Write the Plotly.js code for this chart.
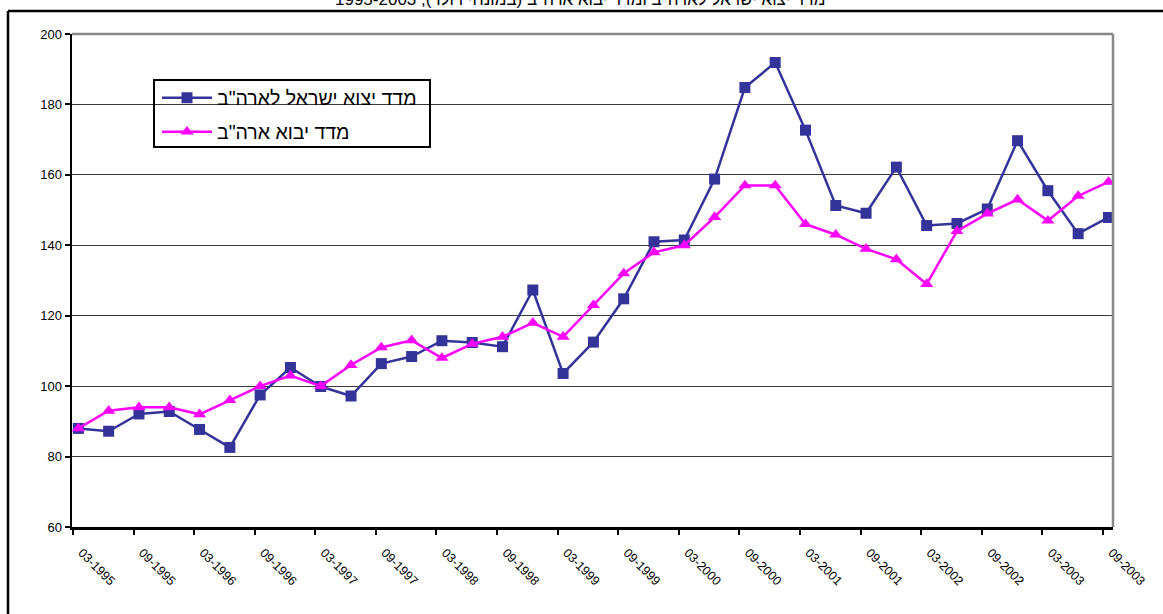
<!DOCTYPE html>
<html>
<head>
<meta charset="utf-8">
<script src="https://cdn.plot.ly/plotly-3.0.1.min.js"></script>
<style>
html,body{margin:0;padding:0;background:#fff;}
#chart{width:1163px;height:614px;}
</style>
</head>
<body>
<div id="chart"></div>
<script>
const quarters = [
  "03-1995","06-1995","09-1995","12-1995",
  "03-1996","06-1996","09-1996","12-1996",
  "03-1997","06-1997","09-1997","12-1997",
  "03-1998","06-1998","09-1998","12-1998",
  "03-1999","06-1999","09-1999","12-1999",
  "03-2000","06-2000","09-2000","12-2000",
  "03-2001","06-2001","09-2001","12-2001",
  "03-2002","06-2002","09-2002","12-2002",
  "03-2003","06-2003","09-2003"
];
const tickLabels = [
  "03-1995","09-1995","03-1996","09-1996","03-1997","09-1997",
  "03-1998","09-1998","03-1999","09-1999","03-2000","09-2000",
  "03-2001","09-2001","03-2002","09-2002","03-2003","09-2003"
];
const israelExportsToUS = [
  88, 87.2, 92.1, 92.8, 87.7, 82.6, 97.5, 105.3, 99.9, 97.2,
  106.4, 108.4, 112.9, 112.4, 111.2, 127.3, 103.6, 112.5, 124.8, 141.0,
  141.5, 158.8, 184.8, 191.9, 172.7, 151.3, 149.1, 162.2, 145.6, 146.2,
  150.3, 169.7, 155.5, 143.3, 147.9
];
const usImports = [
  88, 93, 94, 94, 92, 96, 100, 103, 100, 106,
  111, 113, 108, 112, 114, 118, 114, 123, 132, 138,
  140, 148, 157, 157, 146, 143, 139, 136, 129, 144,
  149, 153, 147, 154, 158
];
const seriesNames = ['מדד יצוא ישראל לארה"ב', 'מדד יבוא ארה"ב'];
const titleText = 'מדד יצוא ישראל לארה"ב ומדד יבוא ארה"ב (במונחי דולר), 1995-2003';

const xIdx = quarters.map((q, i) => i);
const tickOffset = -0.18;
const tickVals = tickLabels.map(l => quarters.indexOf(l) + tickOffset);

// plot area pixel geometry
const W = 1163, H = 614;
const L = 72, R = 1113, T = 34, B = 527;
const px = v => (v - L) / (R - L);
const py = v => (B - v) / (B - T);

const font = "'Liberation Sans', Arial, sans-serif";

const traces = [
  {
    x: xIdx, y: israelExportsToUS, name: seriesNames[0],
    type: 'scatter', mode: 'lines+markers',
    line: {color: '#333399', width: 2.5},
    marker: {symbol: 'square', size: 11, color: '#333399'},
    legend: 'legend'
  },
  {
    x: xIdx, y: usImports, name: seriesNames[1],
    type: 'scatter', mode: 'lines+markers',
    line: {color: '#FF00FF', width: 2.5},
    marker: {symbol: 'triangle-up', size: 11.5, color: '#FF00FF'},
    legend: 'legend2'
  }
];

const legendCommon = {
  xref: 'paper', yref: 'paper', xanchor: 'left', yanchor: 'middle',
  bgcolor: 'rgba(0,0,0,0)', borderwidth: 0,
  font: {family: font, size: 19.5, color: '#000'},
  itemwidth: 50
};

const layout = {
  width: W, height: H,
  margin: {l: L, r: W - R, t: T, b: H - B, pad: 0},
  paper_bgcolor: '#fff', plot_bgcolor: '#fff',
  showlegend: true,
  legend: Object.assign({}, legendCommon, {x: px(157), y: py(98)}),
  legend2: Object.assign({}, legendCommon, {x: px(157), y: py(132)}),
  xaxis: {
    type: 'linear',
    range: [-0.21, 34.15],
    tickmode: 'array', tickvals: tickVals, ticktext: tickLabels,
    tickangle: 45,
    ticks: 'outside', ticklen: 5, tickwidth: 2, tickcolor: '#000',
    ticklabelshift: 9, ticklabelstandoff: 6,
    showline: true, linecolor: '#000', linewidth: 2.5,
    showgrid: false, zeroline: false,
    tickfont: {family: font, size: 12.5, color: '#000'}
  },
  yaxis: {
    range: [60, 200],
    tickmode: 'linear', tick0: 60, dtick: 20,
    ticks: 'outside', ticklen: 5, tickwidth: 2, tickcolor: '#000',
    showline: true, linecolor: '#000', linewidth: 2.5,
    showgrid: true, gridcolor: '#3a3a3a', gridwidth: 1.2,
    zeroline: false,
    tickfont: {family: font, size: 13, color: '#000'}
  },
  shapes: [
    // plot area gray top/right border
    {type: 'line', xref: 'paper', yref: 'paper', x0: 0, x1: 1, y0: 1, y1: 1,
     line: {color: '#888', width: 2.5}},
    {type: 'line', xref: 'paper', yref: 'paper', x0: 1, x1: 1, y0: 0, y1: 1,
     line: {color: '#888', width: 2.5}},
    // legend box
    {type: 'rect', xref: 'paper', yref: 'paper',
     x0: px(154), x1: px(430), y0: py(147), y1: py(80),
     line: {color: '#000', width: 2}, fillcolor: 'rgba(0,0,0,0)'},
    // outer chart frame
    {type: 'line', xref: 'paper', yref: 'paper', x0: px(8), x1: px(1175), y0: py(11), y1: py(11),
     line: {color: '#000', width: 2.5}},
    {type: 'line', xref: 'paper', yref: 'paper', x0: px(8), x1: px(8), y0: py(11), y1: py(630),
     line: {color: '#000', width: 2.5}}
  ],
  annotations: [
    {text: titleText, xref: 'paper', yref: 'paper', x: px(580), y: py(-1),
     xanchor: 'center', yanchor: 'middle', showarrow: false,
     font: {family: font, size: 17, color: '#000'}}
  ]
};

Plotly.newPlot('chart', traces, layout, {displayModeBar: false, staticPlot: true});
</script>
</body>
</html>
